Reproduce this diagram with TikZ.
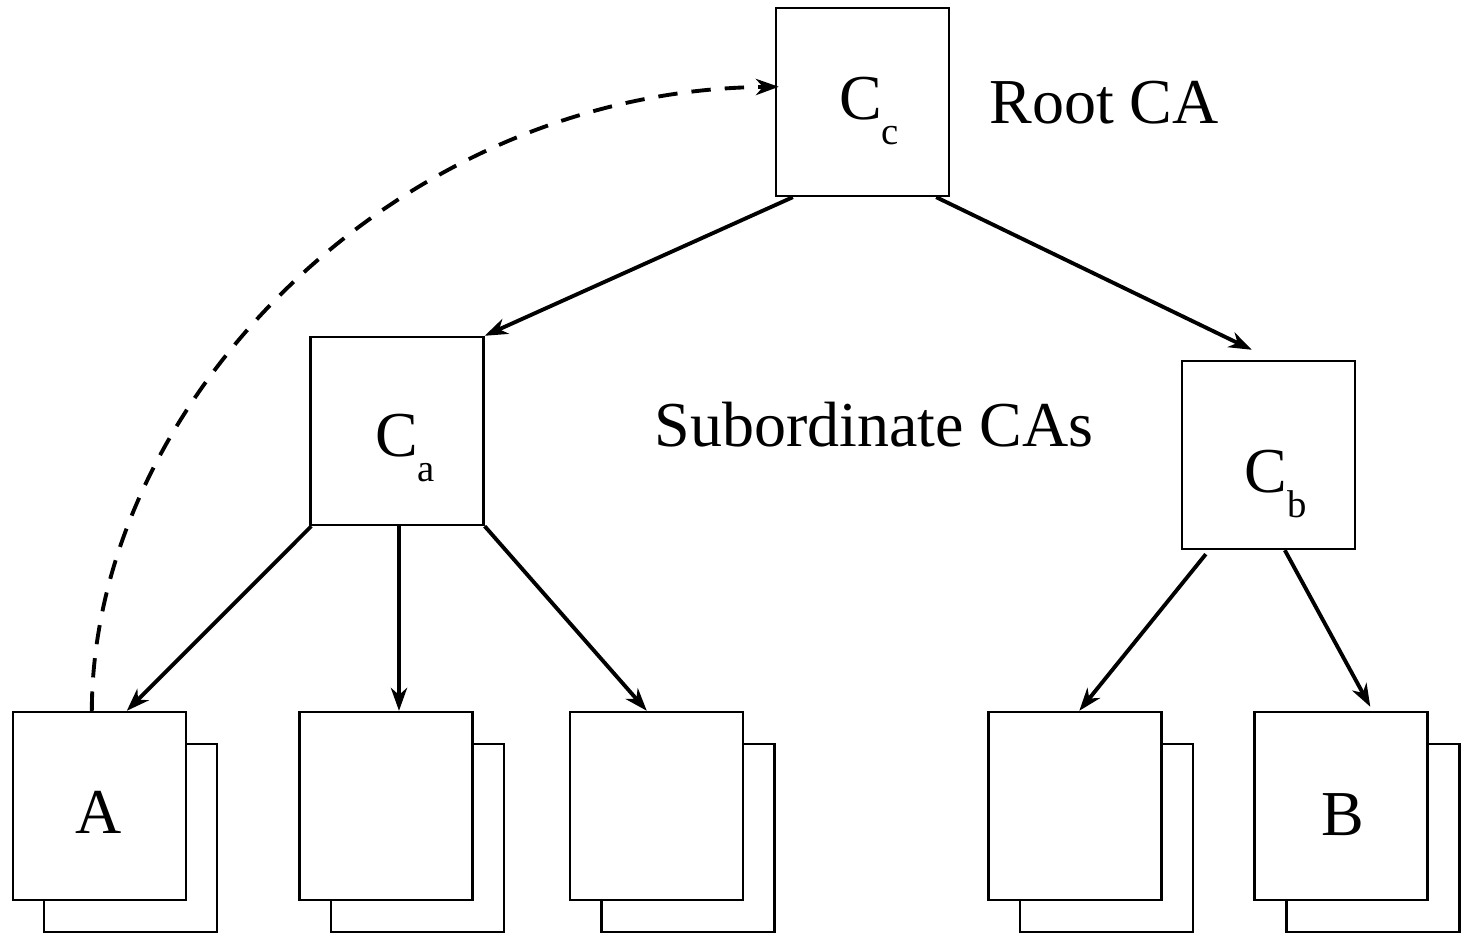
\documentclass[tikz,border=0pt]{standalone}
\usepackage{fontspec}
\setmainfont{Liberation Serif}
\usetikzlibrary{arrows.meta,calc}
\newcommand{\subl}[1]{\raisebox{-7pt}{\fontsize{11}{12}\selectfont #1}}
\begin{document}
\begin{tikzpicture}[x=0.01cm,y=-0.01cm,
  box/.style={draw,line width=0.65pt,fill=white,minimum width=1.73cm,minimum height=1.88cm,inner sep=0pt},
  conn/.style={line width=1.1pt,-{Stealth[length=6.5pt,width=4.6pt,inset=2pt]}},
  lbl/.style={font=\fontsize{18.2}{21}\selectfont}]
\useasboundingbox (0,0) rectangle (1463,937);
% back boxes
\node[box] (Ab) at (130.5,838) {};
\node[box] (L2b) at (417.5,838) {};
\node[box] (L3b) at (688,838) {};
\node[box] (L4b) at (1106.5,838) {};
\node[box] (Bb) at (1373,838) {};
% front boxes
\node[box] (A) at (99.5,806) {};
\node[box] (L2) at (386,806) {};
\node[box] (L3) at (656.5,806) {};
\node[box] (L4) at (1075,806) {};
\node[box] (B) at (1341,806) {};
\node[lbl] (At) at (99,812) {A};
\node[lbl] (Bt) at (1343,815) {B};
% CAs
\node[box] (Cc) at (862.5,102) {};
\node[box] (Ca) at (397,431) {};
\node[box] (Cb) at (1268.5,455) {};
\node[lbl] (Cct) at (869,111) {C\subl{c}};
\node[lbl] (Cat) at (405,448) {C\subl{a}};
\node[lbl] (Cbt) at (1276,484) {C\subl{b}};
\node[lbl] (root) at (1104,103) {Root CA};
\node[lbl] (sub) at (874,425) {Subordinate CAs};
% connectors
\coordinate (ca2) at ($(Ca.south)+(2,0)$);
\draw[conn] ($(Cc.south west)+(18,0)$) -- (Ca.north east);
\draw[conn] ($(Cc.south east)+(-14,0)$) -- ($(Cb.north west)+(71,-10)$);
\draw[conn] ($(Ca.south west)+(2,0)$) -- ($(A.north west)+(115,0)$);
\draw[conn] (ca2) -- (ca2 |- L2.north);
\draw[conn] (Ca.south east) -- ($(L3.north west)+(78,0)$);
\draw[conn] ($(Cb.south west)+(25,4)$) -- ($(L4.north west)+(92,0)$);
\draw[conn] ($(Cb.south west)+(104,0)$) -- ($(B.north west)+(117,-4)$);
\draw[line width=1.1pt,dash pattern=on 5.5pt off 4pt,-{Stealth[length=6.5pt,width=4.6pt,inset=2pt]}]
  ($(A.north west)+(80,0)$) .. controls (93,400) and (400,90) .. ($(Cc.north west)+(4,80)$);
\end{tikzpicture}
\end{document}
